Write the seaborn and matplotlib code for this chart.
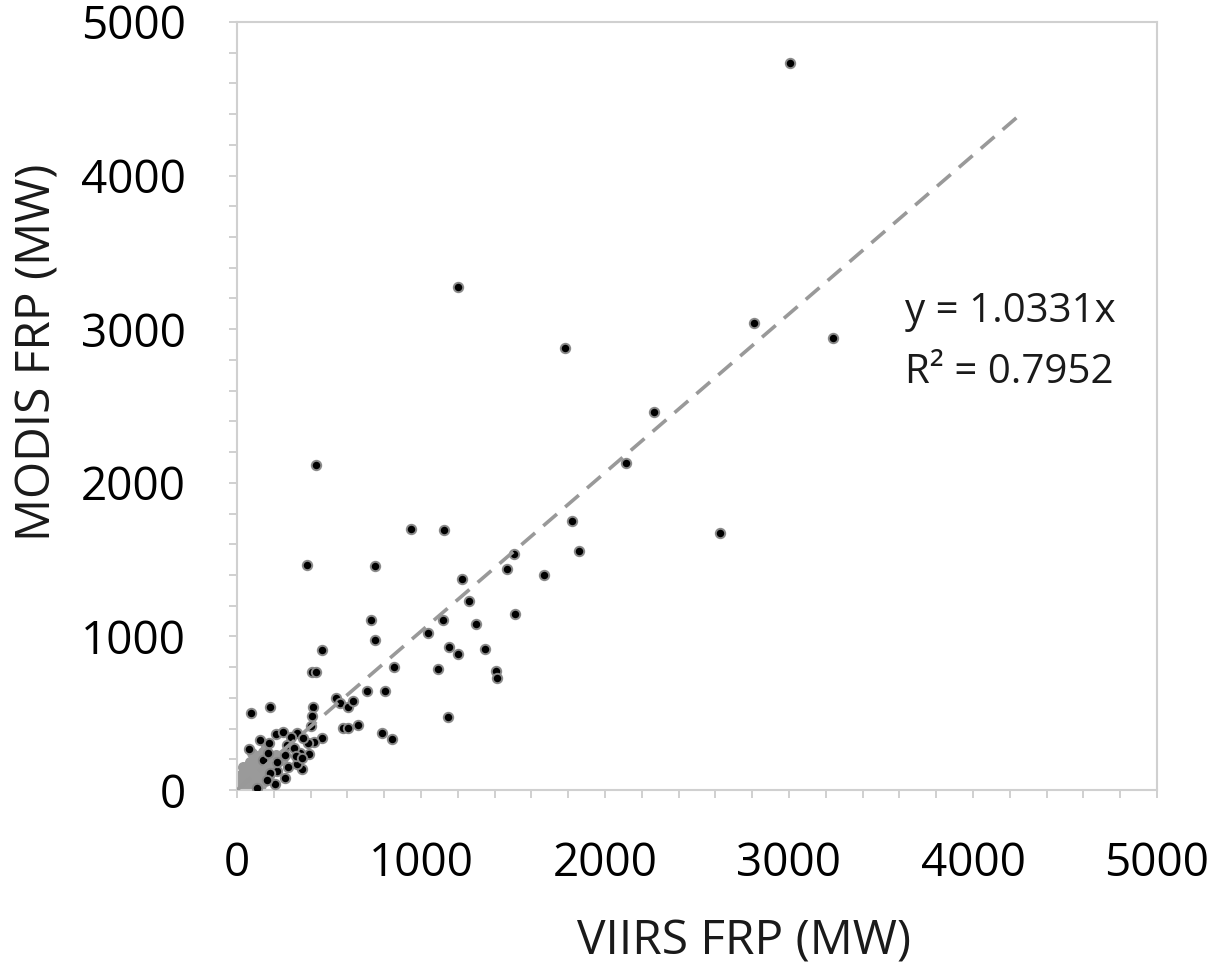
import matplotlib
matplotlib.use("Agg")
import matplotlib.pyplot as plt
from matplotlib.ticker import MultipleLocator
import seaborn as sns
import pandas as pd

# ---- data ----
viirs_frp = [3005, 1201, 1783, 2810, 3239, 2266, 2114, 2625, 1819, 1857,
             944, 1127, 429, 380, 748, 1670, 1467, 1507, 1511, 1224,
             1259, 1300, 730, 748, 1040, 1118, 1154, 1199, 1346, 855,
             1092, 1406, 1415, 804, 1145, 786, 841, 464, 408, 428,
             74, 182, 415, 410, 400, 540, 560, 603, 629, 708,
             578, 603, 656, 462, 419, 390, 355, 324, 205, 110,
             67, 125, 172, 143, 212, 252, 270, 324, 293, 263,
             275, 220, 263, 342, 179, 161, 312, 321, 355, 216,
             167, 388, 360]
modis_frp = [4733, 3275, 2878, 3040, 2943, 2461, 2129, 1673, 1753, 1556,
             1699, 1691, 2116, 1465, 1460, 1398, 1439, 1534, 1148, 1376,
             1230, 1083, 1105, 977, 1020, 1105, 931, 883, 916, 803,
             788, 775, 727, 643, 475, 373, 330, 911, 768, 768,
             500, 542, 542, 482, 417, 597, 568, 538, 579, 643,
             406, 402, 425, 339, 311, 233, 134, 169, 37, 15,
             267, 323, 306, 195, 364, 377, 290, 373, 343, 228,
             152, 125, 76, 239, 109, 68, 271, 221, 206, 184,
             239, 304, 340]

# dense cluster of small fires near the origin (appears grey)
cluster_viirs = [10, 20, 30, 15, 40, 50, 35, 60, 70, 55, 80, 90, 75, 100, 110,
                 95, 120, 130, 60, 45, 25, 85, 105, 140, 150, 120, 165, 30, 20,
                 70, 180, 200, 150, 130, 5, 45, 65, 100, 15, 3, 8, 25, 55, 40,
                 90, 110, 140, 175, 190, 210, 230, 250, 160, 80]
cluster_modis = [5, 15, 25, 35, 20, 45, 60, 30, 65, 80, 50, 95, 110, 70, 120,
                 140, 90, 150, 120, 95, 70, 20, 40, 110, 170, 200, 140, 150, 100,
                 180, 200, 160, 60, 30, 40, 10, 5, 10, 2, 3, 20, 45, 55, 130,
                 160, 220, 250, 90, 130, 230, 190, 210, 280, 240]

slope = 1.0331
r_squared = 0.7952
fit_x = [0, 4250]

x_ticks = [0, 1000, 2000, 3000, 4000, 5000]
y_ticks = [0, 1000, 2000, 3000, 4000, 5000]

x_label = "VIIRS FRP (MW)"
y_label = "MODIS FRP (MW)"

# ---- plotting ----
sns.set_style("white")
plt.rcParams["font.family"] = ["Open Sans", "DejaVu Sans"]

fig = plt.figure(figsize=(12.15, 9.66), dpi=100)
ax = fig.add_axes([237 / 1215, 1 - 790 / 966, 920 / 1215, 768 / 966])

pts = pd.DataFrame({"viirs": viirs_frp, "modis": modis_frp})
cl = pd.DataFrame({"viirs": cluster_viirs, "modis": cluster_modis})
fit = pd.DataFrame({"x": fit_x, "y": [slope * v for v in fit_x]})

sns.scatterplot(data=cl, x="viirs", y="modis", ax=ax, color="#9a9a9a",
                edgecolor="#9a9a9a", s=48, linewidth=1.0, zorder=2)
sns.scatterplot(data=pts, x="viirs", y="modis", ax=ax, color="black",
                edgecolor="#8a8a8a", s=46, linewidth=1.4, zorder=3)
sns.lineplot(data=fit, x="x", y="y", ax=ax, color="#999999", linewidth=2.6,
             zorder=4)
ax.lines[-1].set_dashes((5, 3))

ax.set_xlim(0, 5000)
ax.set_ylim(0, 5000)
ax.set_xticks(x_ticks)
ax.set_yticks(y_ticks)
ax.xaxis.set_minor_locator(MultipleLocator(200))
ax.yaxis.set_minor_locator(MultipleLocator(200))

tick_col = "#d0d0d0"
for sp in ax.spines.values():
    sp.set_visible(True)
    sp.set_color(tick_col)
    sp.set_linewidth(1.5)

ax.tick_params(axis="both", which="both", direction="out", length=6,
               width=1.4, color=tick_col, bottom=True, left=True,
               top=False, right=False)
ax.tick_params(axis="both", which="major", labelsize=33, pad=31,
               labelcolor="black")

ax.set_xlabel(x_label, fontsize=34.5, color="#1a1a1a")
ax.set_ylabel(y_label, fontsize=34.5, color="#1a1a1a")
ax.xaxis.set_label_coords((744 - 237) / 920, (790 - 918) / 768)
ax.yaxis.set_label_coords((62 - 237) / 920, (790 - 352) / 768)

ax.text((905 - 237) / 920, (790 - 322) / 768, f"y = {slope:.4f}x",
        transform=ax.transAxes, fontsize=29, va="baseline", ha="left",
        color="#1a1a1a")
ax.text((905 - 237) / 920, (790 - 383) / 768, f"R² = {r_squared:.4f}",
        transform=ax.transAxes, fontsize=29, va="baseline", ha="left",
        color="#1a1a1a")

fig.savefig("out.png", dpi=100, facecolor="white")
